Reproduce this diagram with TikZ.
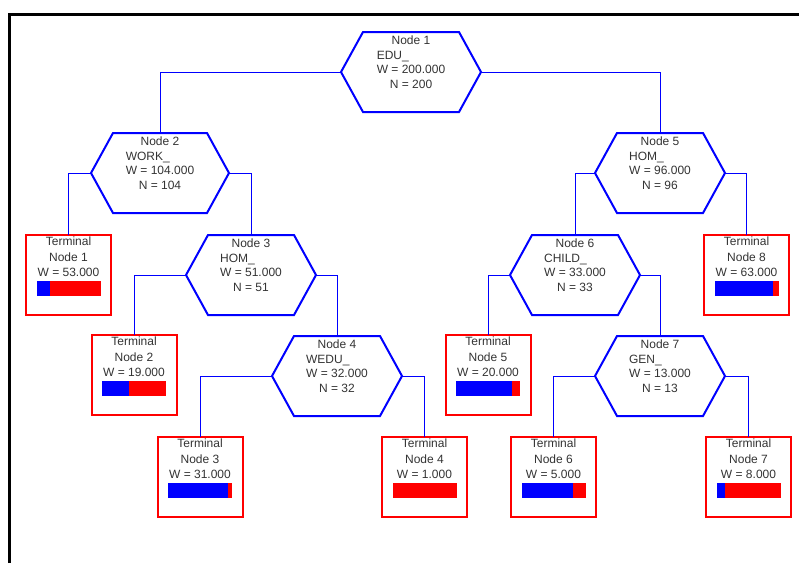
\documentclass[tikz,border=0pt]{standalone}
\usepackage{fontspec}
\setmainfont{Liberation Sans}
\usepackage{calc}
\usetikzlibrary{shapes,positioning}

% text of a split node and the class bar of a terminal node
\newcommand{\splitinfo}[4]{#1\\\makebox[\widthof{W = #3}][l]{#2}\\W = #3\\N = #4\rule[-20pt]{0pt}{20pt}}
\newcommand{\termbar}[1]{\textcolor{blue}{\rule{#1pt}{15pt}}\textcolor{red}{\rule{\dimexpr 64pt-#1pt\relax}{15pt}}}
\newcommand{\terminfo}[3]{Terminal\\Node #1\\W = #2\\[4pt]\termbar{#3}\rule[-17pt]{0pt}{17pt}}

\begin{document}
\begin{tikzpicture}[x=1pt,y=-1pt,
  hexbox/.style={minimum width=130pt,minimum height=80pt,inner sep=0pt,outer sep=0pt,align=center,text=black!80,font=\fontsize{12pt}{14.7pt}\selectfont},
  hexline/.style={draw=blue,line width=2pt},
  termbox/.style={draw=red,line width=2pt,minimum width=85pt,minimum height=80pt,inner sep=0pt,outer sep=0pt,align=center,text=black!80,font=\fontsize{12pt}{15.5pt}\selectfont},
  link/.style={draw=blue,line width=0.9pt}
]
\useasboundingbox (0,0) rectangle (799,563);
\draw[line width=3pt] (9.5,563) -- (9.5,14) -- (799,14);

% split nodes
\node[hexbox,minimum width=140pt] (n1) at (411,72) {\splitinfo{Node 1}{EDU\_}{200.000}{200}};
\node[hexbox,minimum width=138pt] (n2) at (160,173) {\splitinfo{Node 2}{WORK\_}{104.000}{104}};
\node[hexbox] (n3) at (251,275) {\splitinfo{Node 3}{HOM\_}{51.000}{51}};
\node[hexbox] (n4) at (337,376) {\splitinfo{Node 4}{WEDU\_}{32.000}{32}};
\node[hexbox] (n5) at (660,173) {\splitinfo{Node 5}{HOM\_}{96.000}{96}};
\node[hexbox] (n6) at (575,275) {\splitinfo{Node 6}{CHILD\_}{33.000}{33}};
\node[hexbox] (n7) at (660,376) {\splitinfo{Node 7}{GEN\_}{13.000}{13}};
\foreach \i in {1,...,7}
  \draw[hexline] (n\i.west) -- ([xshift=22pt]n\i.north west) -- ([xshift=-22pt]n\i.north east)
    -- (n\i.east) -- ([xshift=-22pt]n\i.south east) -- ([xshift=22pt]n\i.south west) -- cycle;

% terminal nodes
\node[termbox] (t1) at (68.5,275) {\terminfo{1}{53.000}{13}};
\node[termbox] (t2) at (134,375) {\terminfo{2}{19.000}{27}};
\node[termbox] (t3) at (200,477) {\terminfo{3}{31.000}{60}};
\node[termbox] (t4) at (424.5,477) {\terminfo{4}{1.000}{0}};
\node[termbox] (t5) at (488,375) {\terminfo{5}{20.000}{56}};
\node[termbox] (t6) at (553.5,477) {\terminfo{6}{5.000}{51}};
\node[termbox] (t7) at (748.5,477) {\terminfo{7}{8.000}{8}};
\node[termbox] (t8) at (746.5,275) {\terminfo{8}{63.000}{58}};

\draw[link] (n1.west) -| (n2.north);
\draw[link] (n1.east) -| (n5.north);
\draw[link] (n2.west) -| (t1.north);
\draw[link] (n2.east) -| (n3.north);
\draw[link] (n3.west) -| (t2.north);
\draw[link] (n3.east) -| (n4.north);
\draw[link] (n4.west) -| (t3.north);
\draw[link] (n4.east) -| (t4.north);
\draw[link] (n5.west) -| (n6.north);
\draw[link] (n5.east) -| (t8.north);
\draw[link] (n6.west) -| (t5.north);
\draw[link] (n6.east) -| (n7.north);
\draw[link] (n7.west) -| (t6.north);
\draw[link] (n7.east) -| (t7.north);
\end{tikzpicture}
\end{document}
